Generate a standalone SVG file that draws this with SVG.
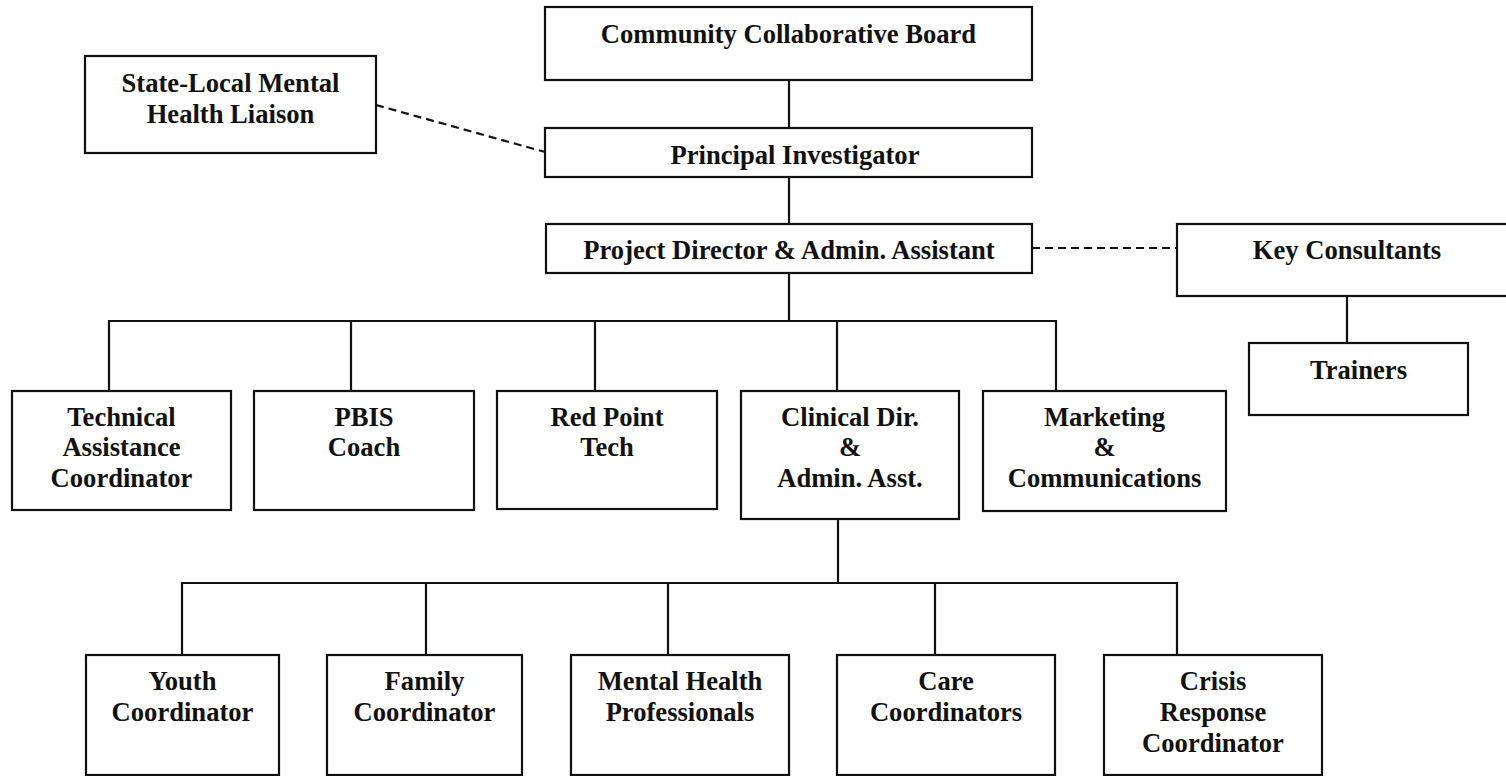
<svg xmlns="http://www.w3.org/2000/svg" width="1506" height="776" viewBox="0 0 1506 776">
  <style>
    .box { fill: #ffffff; stroke: #111111; stroke-width: 2.2; }
    .link { fill: none; stroke: #111111; stroke-width: 2.2; }
    .dash { fill: none; stroke: #111111; stroke-width: 2.2; stroke-dasharray: 8 5; }
    .lbl { font-family: "Liberation Serif", "Times New Roman", serif; font-weight: bold; font-size: 26.6px; fill: #111111; text-anchor: middle; }
  </style>
  <rect width="1506" height="776" fill="#ffffff"/>

  <!-- connectors -->
  <g id="connectors">
    <path class="link" d="M789 80 V128 M789 177 V224 M789 273 V321"/>
    <path class="link" d="M109 391 V321 H1056 V391 M351 321 V391 M595 321 V391 M837 321 V391"/>
    <path class="link" d="M838 519 V583 M182 655 V583 H1177 V655 M426 583 V655 M668 583 V655 M935 583 V655"/>
    <path class="link" d="M1347 296 V343"/>
    <path class="dash" d="M376 105 L545 152"/>
    <path class="dash" d="M1032 248 H1177"/>
  </g>

  <g id="community-board">
    <rect class="box" x="545" y="7" width="487" height="73"/>
    <text class="lbl" x="788.5" y="43">Community Collaborative Board</text>
  </g>

  <g id="state-local-liaison">
    <rect class="box" x="85" y="56" width="291" height="97"/>
    <text class="lbl" x="230.5" y="92">State-Local Mental</text>
    <text class="lbl" x="230.5" y="123">Health Liaison</text>
  </g>

  <g id="principal-investigator">
    <rect class="box" x="545" y="128" width="487" height="49"/>
    <text class="lbl" x="795" y="164">Principal Investigator</text>
  </g>

  <g id="project-director">
    <rect class="box" x="546" y="224" width="486" height="49"/>
    <text class="lbl" x="789" y="259">Project Director &amp; Admin. Assistant</text>
  </g>

  <g id="key-consultants">
    <rect class="box" x="1177" y="224" width="340" height="72"/>
    <text class="lbl" x="1347" y="259">Key Consultants</text>
  </g>

  <g id="trainers">
    <rect class="box" x="1249" y="343" width="219" height="72"/>
    <text class="lbl" x="1358.5" y="379">Trainers</text>
  </g>

  <g id="technical-assistance">
    <rect class="box" x="12" y="391" width="219" height="119"/>
    <text class="lbl" x="121.5" y="426">Technical</text>
    <text class="lbl" x="121.5" y="456">Assistance</text>
    <text class="lbl" x="121.5" y="487">Coordinator</text>
  </g>

  <g id="pbis-coach">
    <rect class="box" x="254" y="391" width="220" height="119"/>
    <text class="lbl" x="364" y="426">PBIS</text>
    <text class="lbl" x="364" y="456">Coach</text>
  </g>

  <g id="red-point-tech">
    <rect class="box" x="497" y="391" width="220" height="118"/>
    <text class="lbl" x="607" y="426">Red Point</text>
    <text class="lbl" x="607" y="456">Tech</text>
  </g>

  <g id="clinical-director">
    <rect class="box" x="741" y="391" width="218" height="128"/>
    <text class="lbl" x="850" y="426">Clinical Dir.</text>
    <text class="lbl" x="850" y="456">&amp;</text>
    <text class="lbl" x="850" y="487">Admin. Asst.</text>
  </g>

  <g id="marketing">
    <rect class="box" x="983" y="391" width="243" height="120"/>
    <text class="lbl" x="1104.5" y="426">Marketing</text>
    <text class="lbl" x="1104.5" y="456">&amp;</text>
    <text class="lbl" x="1104.5" y="487">Communications</text>
  </g>

  <g id="youth-coordinator">
    <rect class="box" x="86" y="655" width="193" height="120"/>
    <text class="lbl" x="182.5" y="690">Youth</text>
    <text class="lbl" x="182.5" y="721">Coordinator</text>
  </g>

  <g id="family-coordinator">
    <rect class="box" x="327" y="655" width="195" height="120"/>
    <text class="lbl" x="424.5" y="690">Family</text>
    <text class="lbl" x="424.5" y="721">Coordinator</text>
  </g>

  <g id="mental-health-professionals">
    <rect class="box" x="571" y="655" width="218" height="120"/>
    <text class="lbl" x="680" y="690">Mental Health</text>
    <text class="lbl" x="680" y="721">Professionals</text>
  </g>

  <g id="care-coordinators">
    <rect class="box" x="837" y="655" width="218" height="120"/>
    <text class="lbl" x="946" y="690">Care</text>
    <text class="lbl" x="946" y="721">Coordinators</text>
  </g>

  <g id="crisis-response">
    <rect class="box" x="1104" y="655" width="218" height="120"/>
    <text class="lbl" x="1213" y="690">Crisis</text>
    <text class="lbl" x="1213" y="721">Response</text>
    <text class="lbl" x="1213" y="752">Coordinator</text>
  </g>
</svg>
